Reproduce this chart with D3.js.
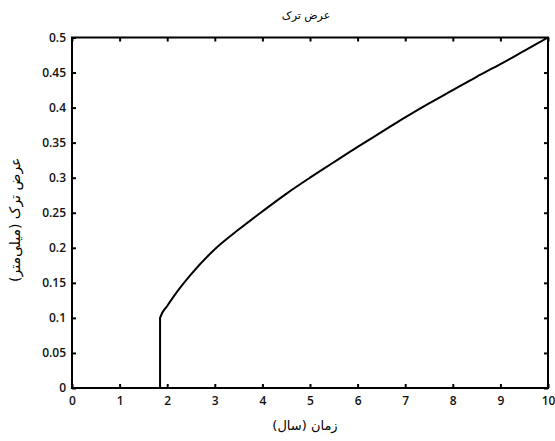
<!DOCTYPE html>
<html><head><meta charset="utf-8">
<script src="https://cdn.jsdelivr.net/npm/d3@7"></script>
<style>
html,body{margin:0;padding:0;background:#fff;}
svg{display:block;}
</style></head>
<body>
<script>
const titleText = "عرض ترک";
const xLabel = "زمان (سال)";
const yLabel = "عرض ترک (میلی‌متر)";
const xTicks = [0,1,2,3,4,5,6,7,8,9,10];
const yTicks = [0,0.05,0.1,0.15,0.2,0.25,0.3,0.35,0.4,0.45,0.5];
const yTickLabels = ["0","0.05","0.1","0.15","0.2","0.25","0.3","0.35","0.4","0.45","0.5"];
const timeYears = [1.85,1.85,2.0,2.13,2.5,3.0,3.5,4.0,4.5,5.0,5.5,6.0,6.5,7.0,7.5,8.0,8.5,9.0,9.5,10.0];
const crackWidth = [0,0.1,0.117,0.13,0.162,0.198,0.226,0.252,0.277,0.300,0.322,0.344,0.365,0.386,0.406,0.425,0.444,0.462,0.481,0.5];

const W=555,H=441;
const m={l:72,t:37.5,r:7,b:53};
const svg=d3.select("body").append("svg").attr("width",W).attr("height",H);
const x=d3.scaleLinear().domain([0,10]).range([m.l,W-m.r]);
const y=d3.scaleLinear().domain([0,0.5]).range([H-m.b,m.t]);
const tickFont="'Open Sans', Lato, sans-serif";
const faFont="'DejaVu Sans', sans-serif";

// frame
svg.append("rect").attr("x",x(0)).attr("y",y(0.5)).attr("width",x(10)-x(0)).attr("height",y(0)-y(0.5))
  .attr("fill","none").attr("stroke","#000").attr("stroke-width",2);

function styleAxis(g){g.select(".domain").remove();g.selectAll(".tick line").attr("stroke","#000").attr("stroke-width",2);}

// bottom
svg.append("g").attr("transform",`translate(0,${y(0)})`)
 .call(d3.axisBottom(x).tickValues(xTicks).tickSize(-4).tickPadding(8).tickFormat(d3.format("d")))
 .call(styleAxis).call(g=>g.selectAll("text").attr("font-family",tickFont).attr("font-size",12).attr("font-weight",600).attr("fill","#111"));
// top
svg.append("g").attr("transform",`translate(0,${y(0.5)})`)
 .call(d3.axisTop(x).tickValues(xTicks).tickSize(-4).tickFormat(""))
 .call(styleAxis);
// left
svg.append("g").attr("transform",`translate(${x(0)},0)`)
 .call(d3.axisLeft(y).tickValues(yTicks).tickSize(-4).tickPadding(6).tickFormat((d,i)=>yTickLabels[i]))
 .call(styleAxis).call(g=>g.selectAll("text").attr("font-family",tickFont).attr("font-size",12).attr("font-weight",600).attr("fill","#111"));
// right
svg.append("g").attr("transform",`translate(${x(10)},0)`)
 .call(d3.axisRight(y).tickValues(yTicks).tickSize(-4).tickFormat(""))
 .call(styleAxis);

// line
const pts=timeYears.map((t,i)=>[t,crackWidth[i]]);
svg.append("path").datum(pts)
 .attr("d",d3.line().x(d=>x(d[0])).y(d=>y(d[1])).curve(d3.curveMonotoneX))
 .attr("fill","none").attr("stroke","#000").attr("stroke-width",2);

// texts
svg.append("text").attr("x",(x(0)+x(10))/2-4).attr("y",19).attr("text-anchor","middle")
 .attr("font-family",faFont).attr("font-size",11).attr("direction","rtl").text(titleText);
svg.append("text").attr("x",(x(0)+x(10))/2-5).attr("y",430).attr("text-anchor","middle")
 .attr("font-family",faFont).attr("font-size",13).attr("direction","rtl").text(xLabel);
svg.append("text").attr("transform",`translate(20,${(y(0)+y(0.5))/2+7}) rotate(-90)`).attr("text-anchor","middle")
 .attr("font-family",faFont).attr("font-size",14).attr("direction","rtl").text(yLabel);
</script>
</body></html>
